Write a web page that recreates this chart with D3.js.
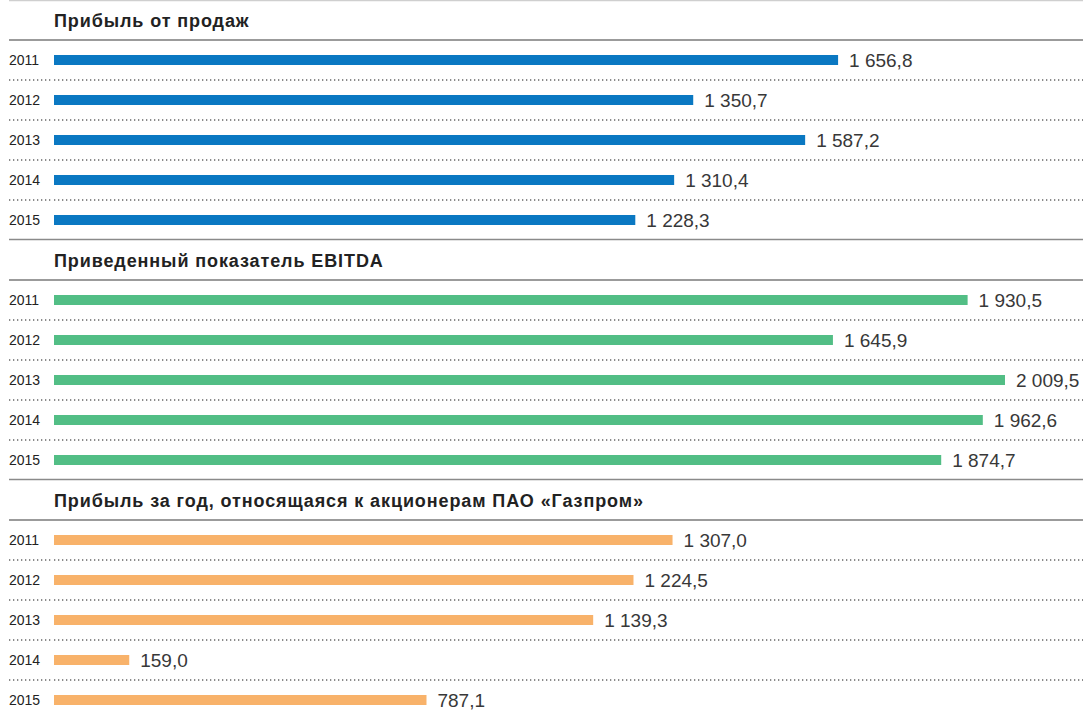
<!DOCTYPE html>
<html>
<head>
<meta charset="utf-8">
<script src="https://cdn.jsdelivr.net/npm/d3@7/dist/d3.min.js"></script>
<style>
  html, body { margin: 0; padding: 0; background: #fff; }
  svg { display: block; }
  text { font-family: "Liberation Sans", Arial, Helvetica, sans-serif; }
</style>
</head>
<body>
<svg id="chart" width="1083" height="715"></svg>
<script>
// Years shown in every panel
const years = ["2011", "2012", "2013", "2014", "2015"];

// Panel titles
const titles = [
  "Прибыль от продаж",
  "Приведенный показатель EBITDA",
  "Прибыль за год, относящаяся к акционерам ПАО «Газпром»"
];

// Values, billion RUB
const salesProfit = [1656.8, 1350.7, 1587.2, 1310.4, 1228.3];
const ebitda = [1930.5, 1645.9, 2009.5, 1962.6, 1874.7];
const netProfit = [1307.0, 1224.5, 1139.3, 159.0, 787.1];

const seriesValues = [salesProfit, ebitda, netProfit];
const seriesColors = ["#0a78c2", "#52be85", "#f8b26a"];

const W = 1083;
const svg = d3.select("#chart");

const fmt = v => {
  const s = v.toFixed(1).replace(".", ",");
  const [i, f] = s.split(",");
  return i.replace(/\B(?=(\d{3})+(?!\d))/g, "\u00a0") + "," + f;
};

// Shared horizontal scale for all three panels
const x = d3.scaleLinear().domain([0, 2009.5]).range([54, 1005]);

const panelH = 240;
const rowH = 40;

// top hairline
svg.append("line").attr("x1", 9).attr("x2", W).attr("y1", 0.5).attr("y2", 0.5)
  .attr("stroke", "#cfcfcf").attr("stroke-width", 1.5);

seriesValues.forEach((vals, p) => {
  const g = svg.append("g").attr("transform", `translate(0,${p * panelH})`);

  if (p > 0) {
    g.append("line").attr("x1", 9).attr("x2", W).attr("y1", -0.5).attr("y2", -0.5)
      .attr("stroke", "#8a8a8a").attr("stroke-width", 1.5);
  }

  g.append("text")
    .attr("x", 54).attr("y", 27)
    .attr("font-size", 18).attr("font-weight", "bold")
    .attr("letter-spacing", 0.9)
    .attr("fill", "#222")
    .text(titles[p]);

  g.append("line").attr("x1", 9).attr("x2", W).attr("y1", 40).attr("y2", 40)
    .attr("stroke", "#7a7a7a").attr("stroke-width", 1.5);

  const y = d3.scaleBand().domain(years).range([40, 40 + rowH * years.length]);

  // dotted row separators
  years.slice(0, -1).forEach(yr => {
    const yy = y(yr) + y.bandwidth();
    g.append("line").attr("x1", 9).attr("x2", 52).attr("y1", yy).attr("y2", yy)
      .attr("stroke", "#666").attr("stroke-width", 1.3).attr("stroke-dasharray", "1.3,2.7");
    g.append("line").attr("x1", 54).attr("x2", W).attr("y1", yy).attr("y2", yy)
      .attr("stroke", "#666").attr("stroke-width", 1.3).attr("stroke-dasharray", "1.3,2.7");
  });

  const rows = g.selectAll("g.row").data(years.map((yr, i) => ({ yr, v: vals[i] })))
    .enter().append("g").attr("class", "row");

  rows.append("text")
    .attr("x", 9).attr("y", d => y(d.yr) + y.bandwidth() / 2 + 5)
    .attr("font-size", 14).attr("fill", "#222")
    .text(d => d.yr);

  rows.append("rect")
    .attr("x", x(0))
    .attr("y", d => y(d.yr) + y.bandwidth() / 2 - 5)
    .attr("width", d => x(d.v) - x(0))
    .attr("height", 10)
    .attr("fill", seriesColors[p]);

  rows.append("text")
    .attr("x", d => x(d.v) + 11)
    .attr("y", d => y(d.yr) + y.bandwidth() / 2 + 7)
    .attr("font-size", 19).attr("fill", "#383838")
    .text(d => fmt(d.v));
});
</script>
</body>
</html>
